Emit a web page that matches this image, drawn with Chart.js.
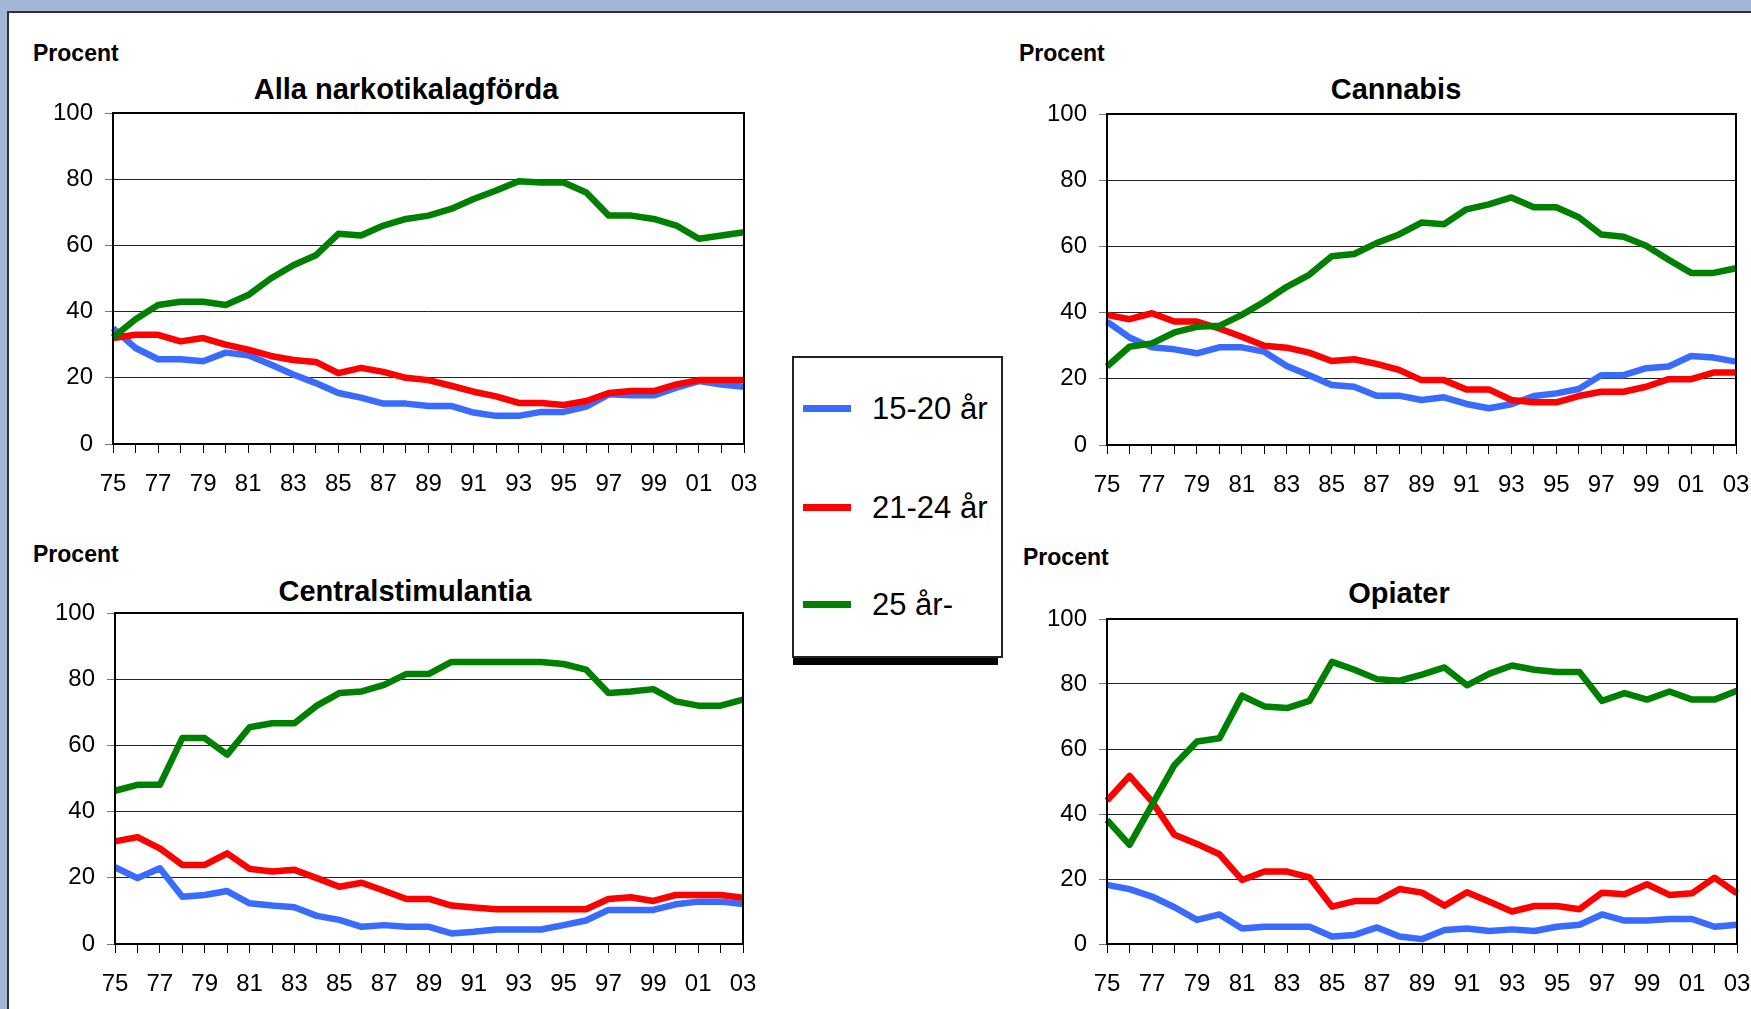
<!DOCTYPE html>
<html lang="sv">
<head>
<meta charset="utf-8">
<title>Lagförda för narkotikabrott efter ålder</title>
<script src="https://cdn.jsdelivr.net/npm/chart.js@4.4.1/dist/chart.umd.min.js"></script>
<style>
  html, body { margin: 0; padding: 0; }
  body {
    width: 1751px; height: 1009px; overflow: hidden; position: relative;
    background: #a2b6d6;
    font-family: 'Liberation Sans', Arial, sans-serif;
  }
  .sheet {
    position: absolute; left: 7px; top: 11px; width: 1800px; height: 1100px;
    background: #fff; border-top: 2px solid #333; border-left: 2px solid #333;
  }
  .procent, .title { position: absolute; font-weight: bold; color: #000; white-space: nowrap; }
  .procent { font-size: 23px; line-height: 23px; }
  .title { font-size: 29px; line-height: 29px; transform: translateX(-50%); }
  canvas.panel { position: absolute; }
  .legend {
    position: absolute; left: 792px; top: 356px; width: 211px; height: 302px;
    box-sizing: border-box; background: #fff; border: 2px solid #222;
    box-shadow: -2px 10px 0 -3px #000;
  }
  .legend .item { position: absolute; left: 0; font-size: 31px; line-height: 31px; }
  .legend .swatch { position: absolute; left: 9px; width: 48px; height: 7px; top: 12px; }
  .legend .label { position: absolute; left: 78px; top: 0; white-space: nowrap; }
</style>
</head>
<body>
<div class="sheet"></div>

<div class="procent" style="left:33px; top:42px;">Procent</div>
<div class="title" style="left:406px; top:75px;">Alla narkotikalagförda</div>
<div class="procent" style="left:1019px; top:42px;">Procent</div>
<div class="title" style="left:1396px; top:75px;">Cannabis</div>
<div class="procent" style="left:33px; top:543px;">Procent</div>
<div class="title" style="left:405px; top:577px;">Centralstimulantia</div>
<div class="procent" style="left:1023px; top:546px;">Procent</div>
<div class="title" style="left:1399px; top:579px;">Opiater</div>

<canvas class="panel" id="chartAlla"></canvas>
<canvas class="panel" id="chartCannabis"></canvas>
<canvas class="panel" id="chartCentral"></canvas>
<canvas class="panel" id="chartOpiater"></canvas>

<div class="legend" id="legend"></div>

<script>
// Years 1975-2003
const years = ['75','76','77','78','79','80','81','82','83','84','85','86','87','88','89',
               '90','91','92','93','94','95','96','97','98','99','00','01','02','03'];

const seriesNames = ['15-20 år', '21-24 år', '25 år-'];
const seriesColors = ['#3a6bff', '#ff0000', '#008000'];

// Alla narkotikalagförda
const alla1520 = [35, 29, 25.6, 25.6, 25, 27.6, 26.8, 24, 21, 18.4, 15.4, 14, 12.2, 12.2, 11.5,
                  11.5, 9.5, 8.5, 8.5, 9.7, 9.7, 11.3, 15, 14.7, 14.7, 17, 19, 18, 17.3];
const alla2124 = [32, 33, 33, 31, 32, 30, 28.5, 26.6, 25.4, 24.8, 21.4, 23, 21.8, 20, 19.3,
                  17.6, 15.8, 14.4, 12.4, 12.4, 11.8, 13, 15.4, 16, 16, 18, 19.3, 19.3, 19.3];
const alla25 = [32.2, 37.7, 42, 43, 43, 42, 45, 50, 54, 57, 63.5, 63, 66, 68, 69,
                71, 74, 76.6, 79.4, 79, 79, 76, 69, 69, 68, 66, 62, 63, 64];

// Cannabis
const cannabis1520 = [37.3, 32.5, 29.5, 28.9, 27.7, 29.5, 29.5, 28.2, 23.9, 21.1, 18.1, 17.6, 14.9, 14.9, 13.6,
                      14.4, 12.4, 11.1, 12.3, 14.8, 15.6, 16.9, 21.1, 21.1, 23.2, 23.7, 26.9, 26.4, 25.2];
const cannabis2124 = [39.3, 38, 39.8, 37.3, 37.3, 35.2, 32.7, 30, 29.4, 27.9, 25.4, 25.9, 24.5, 22.7, 19.6,
                      19.6, 16.8, 16.8, 13.6, 12.9, 12.9, 14.8, 16.1, 16.1, 17.6, 19.9, 19.9, 21.9, 21.9];
const cannabis25 = [23.7, 29.7, 30.7, 34, 35.7, 36, 39.3, 43.3, 47.8, 51.4, 57, 57.7, 61, 63.6, 67.2,
                    66.7, 71.2, 72.7, 74.8, 71.8, 71.8, 68.8, 63.6, 62.9, 60.2, 56, 52, 52, 53.4];

// Centralstimulantia
const central1520 = [23.2, 19.9, 22.9, 14.3, 14.8, 16, 12.3, 11.6, 11.1, 8.5, 7.3, 5.2, 5.7, 5.2, 5.2,
                     3.2, 3.7, 4.4, 4.4, 4.4, 5.7, 7.1, 10.3, 10.3, 10.3, 12, 12.8, 12.8, 12.1];
const central2124 = [31, 32.3, 28.9, 23.9, 23.9, 27.4, 22.7, 21.9, 22.4, 19.9, 17.3, 18.5, 16.1, 13.6, 13.6,
                     11.6, 11, 10.5, 10.5, 10.5, 10.5, 10.5, 13.6, 14.1, 13, 14.8, 14.8, 14.8, 14];
const central25 = [46.3, 48.1, 48.1, 62.2, 62.2, 57.2, 65.5, 66.7, 66.7, 72, 75.8, 76.3, 78.3, 81.6, 81.6,
                   85.2, 85.2, 85.2, 85.2, 85.2, 84.6, 82.9, 75.8, 76.3, 77, 73.3, 72, 72, 73.8];

// Opiater
const opiater1520 = [18.2, 16.9, 14.6, 11.3, 7.4, 9.1, 4.8, 5.3, 5.3, 5.3, 2.3, 2.8, 5.1, 2.3, 1.5,
                     4.3, 4.8, 4, 4.5, 4, 5.3, 5.9, 9.1, 7.2, 7.2, 7.7, 7.7, 5.3, 5.9];
const opiater2124 = [44.1, 51.7, 43.8, 33.6, 30.8, 27.6, 19.7, 22.3, 22.3, 20.5, 11.5, 13.2, 13.2, 16.9, 15.8,
                     11.8, 15.9, 13, 10, 11.7, 11.7, 10.7, 15.8, 15.3, 18.4, 15.1, 15.6, 20.4, 15.6];
const opiater25 = [38.2, 30.5, 42.8, 55.1, 62.3, 63.3, 76.4, 73.1, 72.6, 74.8, 86.8, 84.4, 81.5, 81, 82.9,
                   85.1, 79.6, 83.2, 85.7, 84.4, 83.7, 83.7, 74.8, 77.2, 75.2, 77.7, 75.2, 75.2, 77.9];

const yTicks = [0, 20, 40, 60, 80, 100];

// legend (shared by all four panels)
const legendEl = document.getElementById('legend');
const legendTops = [35, 134, 231];
seriesNames.forEach((name, i) => {
  const item = document.createElement('div');
  item.className = 'item';
  item.style.top = legendTops[i] + 'px';
  item.innerHTML = `<span class="swatch" style="background:${seriesColors[i]}"></span><span class="label">${name}</span>`;
  legendEl.appendChild(item);
});

// plot frame around the chart area
const frame = {
  id: 'frame',
  afterDatasetsDraw(chart) {
    const { ctx, chartArea: a } = chart;
    ctx.save();
    ctx.strokeStyle = '#000';
    ctx.lineWidth = 2;
    ctx.strokeRect(a.left, a.top, a.right - a.left, a.bottom - a.top);
    ctx.restore();
  }
};

const FONT = "'Liberation Sans', Arial, sans-serif";
const PAD_L = 100, PAD_T = 30, PAD_R = 40, PAD_B = 70;

function drawPanel(id, area, data) {
  const canvas = document.getElementById(id);
  const w = area.right - area.left + PAD_L + PAD_R;
  const h = area.bottom - area.top + PAD_T + PAD_B;
  canvas.style.left = (area.left - PAD_L) + 'px';
  canvas.style.top = (area.top - PAD_T) + 'px';
  canvas.style.width = w + 'px';
  canvas.style.height = h + 'px';
  canvas.width = w;
  canvas.height = h;

  const datasets = data.map((values, i) => ({
    label: seriesNames[i],
    data: values,
    borderColor: seriesColors[i],
    backgroundColor: seriesColors[i],
    borderWidth: 6.5,
    pointRadius: 0,
    tension: 0,
    borderJoinStyle: 'round',
    borderCapStyle: 'butt',
    order: 2 - i
  }));

  new Chart(canvas, {
    type: 'line',
    data: { labels: years, datasets: datasets },
    plugins: [frame],
    options: {
      responsive: false,
      animation: false,
      layout: { padding: { left: 0, top: PAD_T, right: PAD_R, bottom: 0 } },
      plugins: { legend: { display: false }, tooltip: { enabled: false } },
      scales: {
        x: {
          type: 'category',
          offset: false,
          afterFit: s => { s.height = PAD_B; },
          border: { display: false },
          grid: { drawOnChartArea: false, drawTicks: true, tickLength: 9, color: '#000', lineWidth: 1 },
          ticks: {
            autoSkip: false, maxRotation: 0, padding: 17, color: '#000',
            font: { family: FONT, size: 24 },
            callback: (v, i) => (i % 2 === 0 ? years[i] : '')
          }
        },
        y: {
          min: 0, max: 100,
          afterFit: s => { s.width = PAD_L; },
          afterBuildTicks: s => { s.ticks = yTicks.map(v => ({ value: v })); },
          border: { display: false },
          grid: { color: '#222', lineWidth: 1, tickLength: 8, tickColor: '#777' },
          ticks: { padding: 12, color: '#000', font: { family: FONT, size: 24 } }
        }
      }
    }
  });
}

drawPanel('chartAlla', { left: 113, top: 113, right: 744, bottom: 444 }, [alla1520, alla2124, alla25]);
drawPanel('chartCannabis', { left: 1107, top: 114, right: 1736, bottom: 445 }, [cannabis1520, cannabis2124, cannabis25]);
drawPanel('chartCentral', { left: 115, top: 613, right: 743, bottom: 944 }, [central1520, central2124, central25]);
drawPanel('chartOpiater', { left: 1107, top: 619, right: 1737, bottom: 944 }, [opiater1520, opiater2124, opiater25]);
</script>
</body>
</html>
